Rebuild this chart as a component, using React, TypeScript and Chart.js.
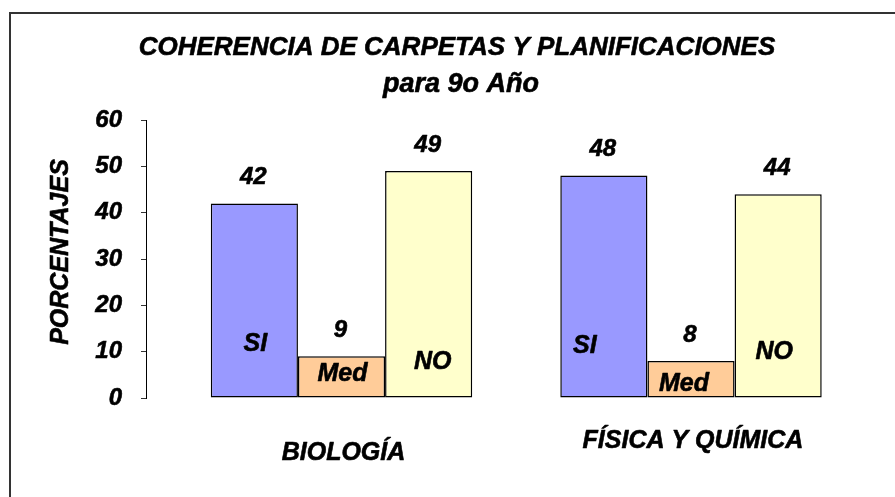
import React, { useEffect, useRef } from 'react';
import { Chart, registerables } from 'chart.js';

Chart.register(...registerables);

// ---- data ----
const categories = ['BIOLOGÍA', 'FÍSICA Y QUÍMICA'];
const seriesNames = ['SI', 'Med', 'NO'];
const siValues = [42, 48];
const medValues = [9, 8];
const noValues = [49, 44];
const seriesValues = [siValues, medValues, noValues];
const titleLines = ['COHERENCIA DE CARPETAS Y PLANIFICACIONES', 'para 9o Año'];
const yAxisTitle = 'PORCENTAJES';
const yMin = 0;
const yMax = 60;
const yStep = 10;

// ---- styles ----
const seriesColors = ['#9999FF', '#FFCC99', '#FFFFCC'];
const FONT = '"Liberation Sans", Arial, Helvetica, sans-serif';
// series-name label placement inside bars: [dx from bar centre, px above base]
const innerLabelOffsets = [
  [[1, 53], [-19, 51]],
  [[1, 23], [-7, 13]],
  [[4, 35], [-4, 45]],
];
// category label baseline below plot bottom (staggered like the original)
const xLabelBaselines = [62, 50];

const decorPlugin = {
  id: 'decor',
  beforeDraw(chart: any) {
    const ctx = chart.ctx;
    ctx.save();
    ctx.strokeStyle = '#333';
    ctx.lineWidth = 2;
    ctx.strokeRect(10, 13, 1000, 1000);
    ctx.restore();
  },
  afterDatasetsDraw(chart: any) {
    const ctx = chart.ctx;
    const area = chart.chartArea;
    const xScale = chart.scales.x;
    ctx.save();
    ctx.fillStyle = '#000';
    ctx.strokeStyle = '#000';
    ctx.lineWidth = 0.6;
    ctx.lineJoin = 'round';
    const setFont = (size: number) => {
      ctx.font = `italic bold ${size}px ${FONT}`;
    };
    const text = (s: string, x: number, y: number) => {
      ctx.fillText(s, x, y);
      ctx.strokeText(s, x, y);
    };
    // title
    ctx.textAlign = 'center';
    ctx.textBaseline = 'alphabetic';
    setFont(26);
    text(titleLines[0], 457, 55);
    setFont(27);
    text(titleLines[1], 461, 92);

    // category labels
    setFont(25);
    categories.forEach((c, i) => {
      text(c, xScale.getPixelForValue(i) + 2, area.bottom + xLabelBaselines[i]);
    });

    // y axis title
    ctx.save();
    ctx.translate(68, (area.top + area.bottom) / 2 - 7);
    ctx.rotate(-Math.PI / 2);
    setFont(25);
    text(yAxisTitle, 0, 0);
    ctx.restore();

    // data labels
    ctx.textBaseline = 'middle';
    seriesNames.forEach((name, d) => {
      const meta = chart.getDatasetMeta(d);
      meta.data.forEach((el: any, j: number) => {
        setFont(24);
        text(String(seriesValues[d][j]), el.x - 1, el.y - 26);
        setFont(25);
        const [dx, dy] = innerLabelOffsets[d][j];
        text(name, el.x + dx, el.base - dy);
      });
    });
    ctx.restore();
  },
};

export default function App() {
  const ref = useRef<HTMLCanvasElement | null>(null);

  useEffect(() => {
    const canvas = ref.current;
    if (!canvas) return;
    const chart = new Chart(canvas, {
      type: 'bar',
      data: {
        datasets: seriesNames.map((name, d) => ({
          label: name,
          data: categories.map((_, i) => ({ x: i, y: seriesValues[d][i] })),
          backgroundColor: seriesColors[d],
          borderColor: '#000',
          borderWidth: 1.5,
          borderSkipped: false,
          categoryPercentage: 0.748,
          barPercentage: 1,
        })),
      },
      options: {
        animation: false,
        responsive: false,
        devicePixelRatio: 1,
        layout: { padding: { top: 120, bottom: 99, left: 0, right: 31 } },
        plugins: {
          legend: { display: false },
          tooltip: { enabled: false },
          title: { display: false },
        },
        scales: {
          x: {
            type: 'linear',
            min: -0.5594,
            max: 1.495,
            offset: false,
            display: false,
            afterBuildTicks: (s: any) => {
              s.ticks = categories.map((_, i) => ({ value: i }));
            },
          },
          y: {
            min: yMin,
            max: yMax,
            ticks: {
              stepSize: yStep,
              color: '#000',
              padding: 19,
              textStrokeColor: '#000',
              textStrokeWidth: 0.6,
              font: { family: FONT, size: 24, style: 'italic', weight: 'bold' },
            },
            grid: { drawOnChartArea: false, drawTicks: true, tickLength: 5, color: '#333' },
            border: { display: true, color: '#000', width: 1 },
            afterFit: (s: any) => {
              s.width = 146;
            },
          },
        },
      } as any,
      plugins: [decorPlugin],
    });
    return () => chart.destroy();
  }, []);

  return (
    <div style={{ position: 'absolute', left: 0, top: 0, width: 895, height: 497, background: '#fff' }}>
      <canvas ref={ref} width={895} height={497} style={{ display: 'block' }} />
    </div>
  );
}
